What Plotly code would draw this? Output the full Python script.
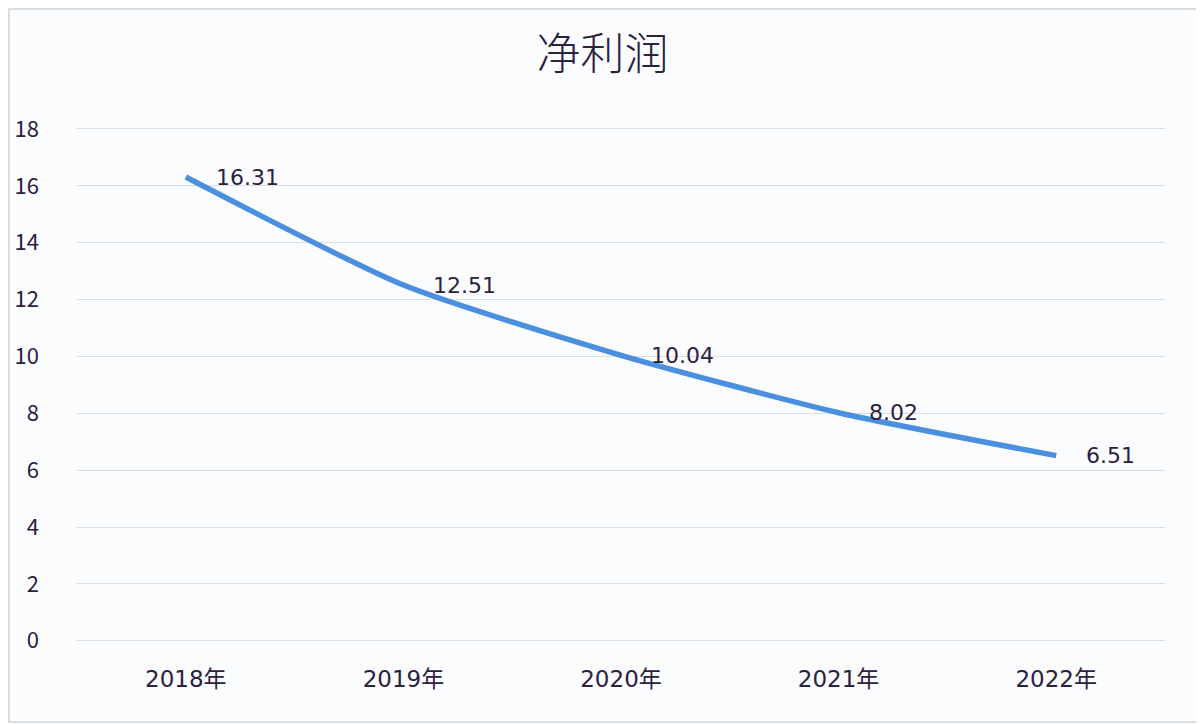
import plotly.graph_objects as go

# data
years = ["2018年", "2019年", "2020年", "2021年", "2022年"]
net_profit = [16.31, 12.51, 10.04, 8.02, 6.51]
y_ticks = [0, 2, 4, 6, 8, 10, 12, 14, 16, 18]

text_color = "#2b2140"
grid_color = "#d8dfe9"
cjk_font = "Noto Sans CJK SC"
num_font = "DejaVu Sans, Noto Sans CJK SC"

fig = go.Figure()

fig.add_trace(go.Scatter(
    x=years,
    y=net_profit,
    mode="lines",
    line=dict(color="#4a90de", width=5.5, shape="spline", smoothing=0.6),
    hoverinfo="x+y",
    showlegend=False,
))

# data labels to the right of each point
for yr, val in zip(years, net_profit):
    fig.add_annotation(
        x=yr, y=val, text=f"{val:.2f}",
        xanchor="left", yanchor="middle",
        xshift=28, yshift=0,
        showarrow=False,
        font=dict(size=22, color=text_color, family=num_font),
    )

# the page body adds an 8px offset, so the figure is 8px smaller than the window
W, H = 1196, 716
ml, mr, mt, mb = 69, 39, 119, 83
pw, ph = W - ml - mr, H - mt - mb

fig.update_layout(
    width=W,
    height=H,
    margin=dict(l=ml, r=mr, t=mt, b=mb, pad=0),
    paper_bgcolor="#fbfcfe",
    plot_bgcolor="#fbfcfe",
    font=dict(family=cjk_font, color=text_color, size=20),
    title=dict(
        text="净利润",
        x=0.497, xanchor="center",
        y=1 - 47 / H, yanchor="middle",
        font=dict(size=44, color=text_color, family=cjk_font, weight=300),
    ),
    xaxis=dict(
        range=[-0.5, 4.5],
        automargin=False,
        showgrid=False,
        showline=False,
        zeroline=False,
        ticks="",
        ticklabelstandoff=22,
        tickfont=dict(size=23, color=text_color, family=num_font),
    ),
    yaxis=dict(
        range=[-0.01, 18.07],
        automargin=False,
        tickvals=y_ticks,
        showgrid=True,
        gridcolor=grid_color,
        gridwidth=1.2,
        zeroline=True,
        zerolinecolor=grid_color,
        zerolinewidth=1.2,
        showline=False,
        ticks="",
        ticklabelstandoff=37,
        tickfont=dict(size=22, color=text_color, family=cjk_font),
    ),
    # thin frame around the whole picture
    shapes=[dict(
        type="rect", xref="paper", yref="paper",
        x0=(1 - ml) / pw, x1=(W - 2 - ml) / pw,
        y0=-(mb - 2) / ph, y1=1 + (mt - 1) / ph,
        line=dict(color="#cfd3da", width=1.5),
        fillcolor="rgba(0,0,0,0)",
        layer="below",
    )],
)

fig.write_html("out.html")
